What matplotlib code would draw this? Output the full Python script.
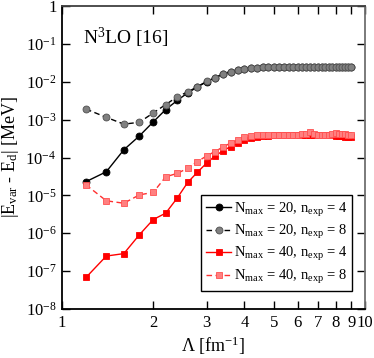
import matplotlib
matplotlib.use("Agg")
import matplotlib.pyplot as plt
from matplotlib.ticker import FixedLocator, NullLocator

plt.rcParams['font.family'] = ['Liberation Serif', 'DejaVu Serif']
plt.rcParams['mathtext.fontset'] = 'custom'
plt.rcParams['mathtext.rm'] = 'Liberation Serif'
plt.rcParams['mathtext.it'] = 'Liberation Serif:italic'

lam = [1.2, 1.4, 1.6, 1.8, 2.0, 2.2, 2.4, 2.6, 2.8, 3.0,
       3.2, 3.4, 3.6, 3.8, 4.0, 4.2, 4.4, 4.6, 4.8, 5.0,
       5.2, 5.4, 5.6, 5.8, 6.0, 6.2, 6.4, 6.6, 6.8, 7.0,
       7.2, 7.4, 7.6, 7.8, 8.0, 8.2, 8.4, 8.6, 8.8, 9.0]

n20_e4 = [2.3e-5, 4.2e-5, 1.6e-4, 3.7e-4, 8.7e-4, 1.85e-3, 3.2e-3, 5.1e-3, 7.3e-3, 1.0e-2,
          1.27e-2, 1.6e-2, 1.85e-2, 2.05e-2, 2.2e-2, 2.3e-2, 2.35e-2, 2.38e-2, 2.4e-2, 2.4e-2,
          2.41e-2, 2.42e-2, 2.42e-2, 2.42e-2, 2.43e-2, 2.43e-2, 2.43e-2, 2.43e-2, 2.43e-2, 2.44e-2,
          2.44e-2, 2.44e-2, 2.44e-2, 2.44e-2, 2.44e-2, 2.45e-2, 2.45e-2, 2.45e-2, 2.45e-2, 2.45e-2]

n20_e8 = [1.9e-3, 1.15e-3, 7.6e-4, 8.5e-4, 1.5e-3, 2.5e-3, 4.0e-3, 5.4e-3, 7.4e-3, 1.02e-2,
          1.28e-2, 1.6e-2, 1.85e-2, 2.05e-2, 2.2e-2, 2.3e-2, 2.35e-2, 2.38e-2, 2.4e-2, 2.4e-2,
          2.41e-2, 2.42e-2, 2.42e-2, 2.42e-2, 2.43e-2, 2.43e-2, 2.43e-2, 2.43e-2, 2.43e-2, 2.44e-2,
          2.44e-2, 2.44e-2, 2.44e-2, 2.44e-2, 2.44e-2, 2.45e-2, 2.45e-2, 2.45e-2, 2.45e-2, 2.45e-2]

n40_e4 = [6.8e-8, 2.5e-7, 2.9e-7, 9.1e-7, 2.3e-6, 3.4e-6, 8.5e-6, 2.2e-5, 4.1e-5, 7.1e-5,
          1.1e-4, 1.5e-4, 1.95e-4, 2.4e-4, 2.9e-4, 3.2e-4, 3.5e-4, 3.7e-4, 3.8e-4, 3.9e-4,
          3.9e-4, 3.9e-4, 3.9e-4, 3.9e-4, 3.9e-4, 3.9e-4, 3.9e-4, 3.95e-4, 3.9e-4, 3.9e-4,
          3.9e-4, 3.9e-4, 3.9e-4, 3.9e-4, 3.8e-4, 3.7e-4, 3.6e-4, 3.5e-4, 3.4e-4, 3.4e-4]

n40_e8 = [1.9e-5, 7.2e-6, 6.2e-6, 1.03e-5, 1.2e-5, 3.1e-5, 3.8e-5, 5.2e-5, 7.8e-5, 1.1e-4,
          1.44e-4, 1.9e-4, 2.4e-4, 2.9e-4, 3.4e-4, 3.7e-4, 3.85e-4, 3.95e-4, 4.0e-4, 4.0e-4,
          4.0e-4, 4.0e-4, 4.0e-4, 4.0e-4, 4.0e-4, 4.1e-4, 4.2e-4, 4.6e-4, 4.2e-4, 4.0e-4,
          4.0e-4, 4.0e-4, 4.0e-4, 4.1e-4, 4.4e-4, 4.2e-4, 4.1e-4, 4.1e-4, 4.0e-4, 3.9e-4]

labels = [r"N$_{\rm max}$ = 20, n$_{\rm exp}$ = 4",
          r"N$_{\rm max}$ = 20, n$_{\rm exp}$ = 8",
          r"N$_{\rm max}$ = 40, n$_{\rm exp}$ = 4",
          r"N$_{\rm max}$ = 40, n$_{\rm exp}$ = 8"]

xticks = [1, 2, 3, 4, 5, 6, 7, 8, 9, 10]
xticklabels = ["1", "2", "3", "4", "5", "6", "7", "8", "9", "10"]
yticks = [1e-8, 1e-7, 1e-6, 1e-5, 1e-4, 1e-3, 1e-2, 1e-1, 1]
yticklabels = [r"10$^{-8}$", r"10$^{-7}$", r"10$^{-6}$", r"10$^{-5}$", r"10$^{-4}$",
               r"10$^{-3}$", r"10$^{-2}$", r"10$^{-1}$", "1"]

fig = plt.figure(figsize=(3.74, 3.58), dpi=100)
ax = fig.add_axes([62/374, 1 - 309/358, 303/374, 303/358])

ax.plot(lam, n20_e4, '-', color='black', lw=1.0, marker='o', ms=5,
        mfc='black', mec='black', mew=0.6, label=labels[0], zorder=3)
ax.plot(lam, n20_e8, '--', color='black', lw=1.0, dashes=(4, 2.5), marker='o', ms=5,
        mfc='#808080', mec='#505050', mew=0.6, label=labels[1], zorder=4)
ax.plot(lam, n40_e4, '-', color='red', lw=1.0, marker='s', ms=4.2,
        mfc='red', mec='red', mew=0.6, label=labels[2], zorder=3)
ax.plot(lam, n40_e8, '--', color='#ff3030', lw=1.0, dashes=(4, 2.5), marker='s', ms=4.2,
        mfc='#ff8080', mec='#ff5050', mew=0.6, label=labels[3], zorder=4)

ax.set_xscale('log')
ax.set_yscale('log')
ax.set_xlim(1, 10)
ax.set_ylim(1e-8, 1)

ax.xaxis.set_major_locator(FixedLocator(xticks))
ax.xaxis.set_minor_locator(NullLocator())
ax.set_xticklabels(xticklabels)
ax.yaxis.set_major_locator(FixedLocator(yticks))
ax.yaxis.set_minor_locator(NullLocator())
ax.set_yticklabels(yticklabels)

ax.tick_params(which='both', direction='in', top=True, right=True,
               length=6, width=1.0, labelsize=12, pad=4)
for s in ax.spines.values():
    s.set_linewidth(1.3)
ax.spines['right'].set_color('#707070')
ax.spines['top'].set_color('#404040')

ax.set_xlabel(r"$\Lambda$ [fm$^{-1}$]", fontsize=13, labelpad=3)
ax.set_ylabel(r"|E$_{\rm var}$ - E$_{\rm d}$| [MeV]", fontsize=13, labelpad=3)

ax.text(0.07, 0.935, r"N$^3$LO [16]", transform=ax.transAxes, fontsize=14,
        va='top', ha='left')

leg = ax.legend(loc='lower right', bbox_to_anchor=(0.958, 0.06), fontsize=10.5,
                frameon=True, fancybox=False, edgecolor='black', framealpha=1,
                handlelength=1.7, handletextpad=0.2, borderpad=0.35,
                labelspacing=0.3, borderaxespad=0.0)
leg.get_frame().set_linewidth(1.0)

fig.savefig("out.png", dpi=100)
